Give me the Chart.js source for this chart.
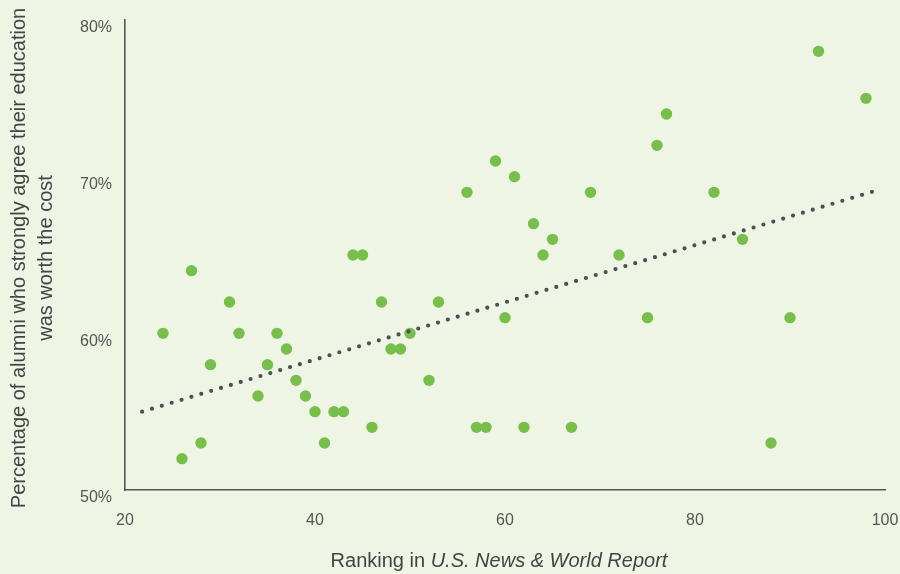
<!DOCTYPE html>
<html>
<head>
<meta charset="utf-8">
<title>Alumni value vs ranking</title>
<script src="https://cdn.jsdelivr.net/npm/chart.js@4/dist/chart.umd.min.js"></script>
<style>
    html, body { margin: 0; padding: 0; background: #eef5e5; }
    #wrap { width: 900px; height: 574px; }
</style>
</head>
<body>
<div id="wrap"><canvas id="alumniChart" width="900" height="574"></canvas></div>
<script>
// Data
const rankings = [24, 26, 27, 28, 29, 31, 32, 34, 35, 36, 37, 38, 39, 40, 41, 42, 43, 44, 45, 46,
                  47, 48, 49, 50, 52, 53, 56, 57, 58, 59, 60, 61, 62, 63, 64, 65, 67, 69, 72, 75,
                  76, 77, 82, 85, 88, 90, 93, 98];
const worthCost = [60, 52, 64, 53, 58, 62, 60, 56, 58, 60, 59, 57, 56, 55, 53, 55, 55, 65, 65, 54,
                   62, 59, 59, 60, 57, 62, 69, 54, 54, 71, 61, 70, 54, 67, 65, 66, 54, 69, 65, 61,
                   72, 74, 69, 66, 53, 61, 78, 75];
// Ends of the dotted trend line
const trendX = [21.8, 99];
const trendY = [55.0, 69.1];
// Axis ticks
const xTicks = [20, 40, 60, 80, 100];
const yTicks = [50, 60, 70, 80];

const yTitle = ['Percentage of alumni who strongly agree their education', 'was worth the cost'];
const xTitlePlain = 'Ranking in ';
const xTitleItalic = 'U.S. News & World Report';

const FONT = '"Liberation Sans", Arial, Helvetica, sans-serif';

// Background of the canvas
const backgroundPlugin = {
    id: 'background',
    beforeDraw(chart) {
        const ctx = chart.ctx;
        ctx.save();
        ctx.fillStyle = '#eef5e5';
        ctx.fillRect(0, 0, chart.width, chart.height);
        ctx.restore();
    }
};

// Axis titles (x title mixes regular and italic text)
const axisTitlesPlugin = {
    id: 'axisTitles',
    afterDraw(chart) {
        const ctx = chart.ctx;
        ctx.save();
        ctx.fillStyle = '#444444';
        ctx.textBaseline = 'alphabetic';

        // x title
        const regular = '20px ' + FONT;
        const italic = 'italic 20px ' + FONT;
        ctx.font = regular;
        const w1 = ctx.measureText(xTitlePlain).width;
        ctx.font = italic;
        const w2 = ctx.measureText(xTitleItalic).width;
        const x = 499 - (w1 + w2) / 2;
        ctx.textAlign = 'left';
        ctx.font = regular;
        ctx.fillText(xTitlePlain, x, 567);
        ctx.font = italic;
        ctx.fillText(xTitleItalic, x + w1, 567);

        // y title, two rotated lines
        ctx.font = regular;
        ctx.textAlign = 'center';
        const baselines = [25, 52];
        yTitle.forEach((line, i) => {
            ctx.save();
            ctx.translate(baselines[i], 258);
            ctx.rotate(-Math.PI / 2);
            ctx.fillText(line, 0, 0);
            ctx.restore();
        });
        ctx.restore();
    }
};

const points = rankings.map((r, i) => ({ x: r, y: worthCost[i] }));
const trend = trendX.map((t, i) => ({ x: t, y: trendY[i] }));

new Chart(document.getElementById('alumniChart'), {
    type: 'scatter',
    data: {
        datasets: [{
            type: 'line',
            label: 'Trend',
            data: trend,
            order: 0,
            borderColor: '#4b4f56',
            borderWidth: 4.2,
            borderDash: [0, 10.3],
            borderCapStyle: 'round',
            pointRadius: 0,
            fill: false
        }, {
            label: 'Colleges',
            data: points,
            order: 1,
            backgroundColor: '#77be4b',
            borderWidth: 0,
            pointRadius: 5.7,
            pointHoverRadius: 5.7
        }]
    },
    options: {
        responsive: false,
        animation: false,
        layout: { padding: { top: 20, right: 15, left: 0, bottom: 0 } },
        plugins: {
            legend: { display: false },
            tooltip: { enabled: false }
        },
        scales: {
            x: {
                type: 'linear',
                min: 20,
                max: 100,
                afterBuildTicks: (scale) => { scale.ticks = xTicks.map(v => ({ value: v })); },
                afterFit: (scale) => {
                    scale.height = 84;
                    scale.paddingLeft = 0;
                    scale.paddingRight = 0;
                },
                grid: { display: false, drawTicks: false },
                border: { display: true, color: '#555555', width: 1.6 },
                ticks: {
                    padding: 21,
                    color: '#555555',
                    font: { family: FONT, size: 16 }
                }
            },
            y: {
                type: 'linear',
                min: 50,
                max: 80,
                afterBuildTicks: (scale) => { scale.ticks = yTicks.map(v => ({ value: v })); },
                afterFit: (scale) => {
                    scale.width = 125;
                    scale.paddingTop = 0;
                    scale.paddingBottom = 0;
                },
                grid: { display: false, drawTicks: false },
                border: { display: true, color: '#555555', width: 1.6 },
                ticks: {
                    padding: 13,
                    labelOffset: 8,
                    color: '#555555',
                    font: { family: FONT, size: 16 },
                    callback: (v) => v + '%'
                }
            }
        }
    },
    plugins: [backgroundPlugin, axisTitlesPlugin]
});
</script>
</body>
</html>
